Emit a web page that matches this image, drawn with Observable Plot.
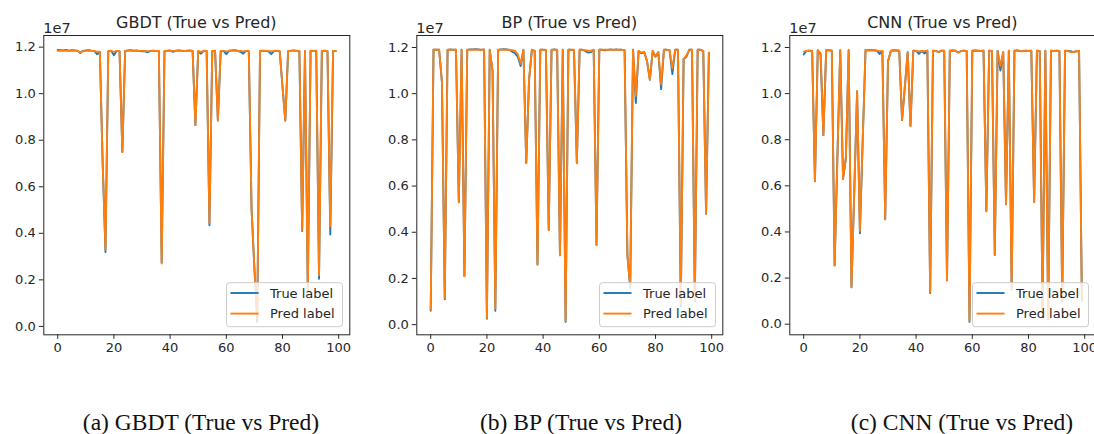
<!DOCTYPE html>
<html>
<head>
<meta charset="utf-8">
<script src="https://cdn.jsdelivr.net/npm/d3@7"></script>
<script src="https://cdn.jsdelivr.net/npm/@observablehq/plot@0.6"></script>
<style>
  html, body { margin: 0; padding: 0; background: #fff; }
  #page { position: relative; width: 1094px; height: 434px; overflow: hidden; background: #fff; }
  .panel { position: absolute; top: 0; width: 373px; height: 365px; }
  .panel svg { max-width: none !important; }
  #captions { position: absolute; left: 0; top: 0; }
</style>
</head>
<body>
<div id="page"></div>
<script>
// ---------- data (values in units of 1e6) ----------
const xTicks = [0, 20, 40, 60, 80, 100];
const yTicks = [0, 2, 4, 6, 8, 10, 12];          // shown as 0.0 ... 1.2 (x1e7)
const titles = ["GBDT (True vs Pred)", "BP (True vs Pred)", "CNN (True vs Pred)"];
const captions = ["(a) GBDT (True vs Pred)", "(b) BP (True vs Pred)", "(c) CNN (True vs Pred)"];
const seriesNames = ["True label", "Pred label"];

const gbdtTrue = [
 11.88,11.87,11.86,11.88,11.85,11.87,11.86,11.85,11.75,11.84,
 11.86,11.87,11.85,11.84,11.70,11.78,7.0,3.2,11.82,11.85,
 11.65,11.84,11.82,7.5,11.84,11.86,11.87,11.85,11.86,11.84,
 11.82,11.83,11.78,11.84,11.85,11.84,11.83,2.75,11.82,11.85,
 11.86,11.80,11.85,11.86,11.85,11.84,11.85,11.86,11.84,8.65,
 11.82,11.72,11.85,11.84,4.35,11.83,11.85,8.85,11.82,11.84,
 11.70,11.85,11.86,11.87,11.85,11.80,11.72,11.84,11.82,5.0,
 2.5,0.2,11.84,11.85,11.84,11.82,11.70,11.84,11.85,11.82,
 10.3,8.85,11.83,11.85,11.86,11.85,11.83,4.1,11.84,1.5,
 11.85,11.84,11.85,2.05,11.84,11.85,11.83,3.95,11.84,11.84];
const gbdtPred = [
 11.84,11.84,11.84,11.85,11.84,11.84,11.85,11.84,11.77,11.83,
 11.84,11.84,11.84,11.84,11.80,11.80,7.0,3.3,11.84,11.84,
 11.80,11.84,11.84,7.5,11.84,11.84,11.85,11.84,11.84,11.84,
 11.84,11.84,11.83,11.84,11.84,11.84,11.84,2.7,11.84,11.84,
 11.84,11.84,11.84,11.85,11.84,11.84,11.84,11.84,11.84,8.65,
 11.84,11.80,11.84,11.84,4.45,11.84,11.84,8.85,11.84,11.84,
 11.82,11.84,11.84,11.85,11.84,11.84,11.82,11.84,11.84,5.0,
 2.5,0.35,11.84,11.84,11.84,11.84,11.82,11.84,11.84,11.84,
 10.3,8.85,11.84,11.84,11.84,11.84,11.84,4.15,11.84,1.6,
 11.84,11.84,11.84,2.2,11.84,11.84,11.84,4.3,11.84,11.84];

const bpTrue = [
 0.6,11.9,11.9,11.9,10.5,1.1,11.9,11.92,11.9,11.9,
 5.3,11.9,2.1,11.9,11.92,11.92,11.93,11.92,11.9,11.92,
 0.25,11.9,11.0,0.6,11.9,11.92,11.93,11.92,11.9,11.82,
 11.75,11.6,11.2,11.9,7.0,10.6,11.9,11.85,2.6,11.9,
 11.9,11.88,4.1,11.9,11.92,11.9,3.0,11.9,0.12,11.9,
 11.9,11.88,7.0,11.9,11.9,11.85,11.78,11.8,11.9,3.45,
 11.9,11.9,11.88,11.9,11.92,11.9,11.92,11.9,11.9,11.88,
 3.0,1.6,11.9,9.6,11.85,11.75,11.8,11.4,10.6,11.85,
 11.6,11.8,10.2,11.9,11.9,11.88,10.85,11.9,11.9,0.8,
 11.5,11.6,11.9,11.9,1.0,11.9,11.9,11.85,4.8,11.78];
const bpPred = [
 0.65,11.9,11.9,11.9,10.5,1.15,11.9,11.9,11.9,11.9,
 5.3,11.9,2.1,11.9,11.9,11.9,11.9,11.9,11.9,11.9,
 0.3,11.9,11.0,0.7,11.9,11.9,11.9,11.9,11.9,11.88,
 11.85,11.7,11.3,11.9,7.0,10.6,11.9,11.85,2.6,11.9,
 11.9,11.9,4.1,11.9,11.9,11.9,3.0,11.9,0.15,11.9,
 11.9,11.9,7.0,11.9,11.9,11.88,11.86,11.86,11.9,3.45,
 11.9,11.9,11.9,11.9,11.9,11.9,11.9,11.9,11.9,11.88,
 3.0,1.7,11.9,9.9,11.85,11.78,11.8,11.4,10.6,11.85,
 11.62,11.8,10.4,11.9,11.9,11.88,11.1,11.9,11.9,0.9,
 11.5,11.65,11.9,11.9,1.1,11.9,11.9,11.85,4.8,11.78];

const cnnTrue = [
 11.7,11.85,11.86,11.85,6.2,11.88,11.7,8.2,11.88,11.88,
 11.86,2.55,7.3,11.88,6.3,7.2,11.88,1.6,5.8,10.1,
 3.95,8.0,11.88,11.88,11.89,11.88,11.86,11.72,11.85,4.55,
 11.4,11.85,11.88,11.87,11.86,8.85,10.3,11.8,8.6,11.86,
 11.85,11.72,11.85,11.74,11.86,1.35,11.86,11.85,11.8,11.86,
 11.86,1.9,11.86,11.87,11.86,11.78,11.85,11.86,11.85,0.1,
 11.86,11.87,11.86,11.85,11.86,4.9,11.86,11.85,3.0,11.85,
 11.0,11.8,5.2,11.86,1.5,11.86,11.87,11.85,11.84,11.86,
 11.85,11.86,5.3,11.86,11.85,0.5,11.86,0.2,11.86,11.85,
 11.86,11.85,1.0,11.86,11.85,11.84,11.8,11.84,11.85,1.0];
const cnnPred = [
 11.82,11.85,11.86,11.85,6.2,11.88,11.75,8.2,11.88,11.88,
 11.86,2.55,7.3,11.88,6.3,7.2,11.88,1.6,5.8,10.1,
 4.05,8.0,11.88,11.88,11.88,11.88,11.86,11.84,11.85,4.55,
 11.4,11.85,11.88,11.87,11.86,8.85,10.3,11.78,8.6,11.86,
 11.85,11.84,11.85,11.84,11.86,1.4,11.86,11.85,11.8,11.86,
 11.86,1.9,11.86,11.87,11.86,11.78,11.85,11.86,11.85,0.15,
 11.86,11.87,11.86,11.85,11.86,4.9,11.86,11.85,3.0,11.85,
 11.2,11.8,5.2,11.86,1.5,11.86,11.87,11.85,11.84,11.86,
 11.85,11.86,5.3,11.86,11.85,0.55,11.86,0.25,11.86,11.85,
 11.86,11.85,1.05,11.86,11.85,11.8,11.8,11.84,11.85,1.0];

// y-limits (units of 1e6)
const yDomains = [[-0.36, 12.50], [-0.44, 12.52], [-0.46, 12.52]];
const panelOffsets = [0, 373.4, 746];
const captionCenters = [201, 581, 962];
const colors = ["#1f77b4", "#ff7f0e"];

// ---------- build ----------
const page = document.getElementById("page");
const allSeries = [[gbdtTrue, gbdtPred], [bpTrue, bpPred], [cnnTrue, cnnPred]];
const W = 373, H = 365, mL = 43.3, mR = 23.7, mT = 35, mB = 30.7;
const FONT = "'DejaVu Sans', sans-serif";
const TXT = "#262626";

allSeries.forEach(([tv, pv], p) => {
  const rowsT = tv.map((v, i) => ({i, v}));
  const rowsP = pv.map((v, i) => ({i, v}));
  const svg = Plot.plot({
    width: W, height: H,
    marginLeft: mL, marginRight: mR, marginTop: mT, marginBottom: mB,
    style: {fontFamily: FONT, fontSize: "13px", color: TXT, background: "transparent", overflow: "visible", maxWidth: "none"},
    x: {domain: [-4.95, 103.95]},
    y: {domain: yDomains[p]},
    marks: [
      Plot.line(rowsT, {x: "i", y: "v", stroke: colors[0], strokeWidth: 1.9, clip: true}),
      Plot.line(rowsP, {x: "i", y: "v", stroke: colors[1], strokeWidth: 1.9, clip: true}),
      Plot.frame({stroke: TXT, strokeWidth: 1}),
      Plot.axisX({ticks: xTicks, tickSize: 4.5, tickPadding: 3.5, label: null, tickFormat: d => String(d)}),
      Plot.axisY({ticks: yTicks, tickSize: 4.5, tickPadding: 3.5, label: null, tickFormat: d => (d / 10).toFixed(1)})
    ]
  });
  svg.style.maxWidth = "none";
  const s = d3.select(svg);
  // title
  s.append("text").attr("x", (mL + (W - mR)) / 2).attr("y", 28)
    .attr("text-anchor", "middle").attr("font-family", FONT).attr("font-size", "16px")
    .attr("fill", TXT).text(titles[p]);
  // offset text
  s.append("text").attr("x", mL).attr("y", 32.5).attr("text-anchor", "start")
    .attr("font-family", FONT).attr("font-size", "14.5px").attr("fill", TXT).text("1e7");
  // legend (lower right)
  const lg = s.append("g");
  const bx = 226.5, by = 282.7, bw = 116, bh = 44;
  lg.append("rect").attr("x", bx).attr("y", by).attr("width", bw).attr("height", bh)
    .attr("rx", 3).attr("fill", "#fff").attr("fill-opacity", 0.8)
    .attr("stroke", "#ccc").attr("stroke-width", 1);
  seriesNames.forEach((name, k) => {
    const yy = 293 + k * 20.6;
    lg.append("line").attr("x1", bx + 4).attr("x2", bx + 32).attr("y1", yy).attr("y2", yy)
      .attr("stroke", colors[k]).attr("stroke-width", 1.9);
    lg.append("text").attr("x", bx + 43.5).attr("y", yy + 4.6).attr("text-anchor", "start")
      .attr("font-family", FONT).attr("font-size", "13px").attr("fill", TXT).text(name);
  });
  const wrap = document.createElement("div");
  wrap.className = "panel";
  wrap.style.left = panelOffsets[p] + "px";
  wrap.appendChild(svg);
  page.appendChild(wrap);
});

// captions below the figure
const cap = d3.select(page).append("svg").attr("id", "captions")
  .attr("width", 1094).attr("height", 434);
captions.forEach((c, p) => {
  cap.append("text").attr("x", captionCenters[p]).attr("y", 430)
    .attr("text-anchor", "middle").attr("font-family", "'Liberation Serif', 'Times New Roman', serif")
    .attr("font-size", "23.5px").attr("fill", "#111").text(c);
});
</script>
</body>
</html>
